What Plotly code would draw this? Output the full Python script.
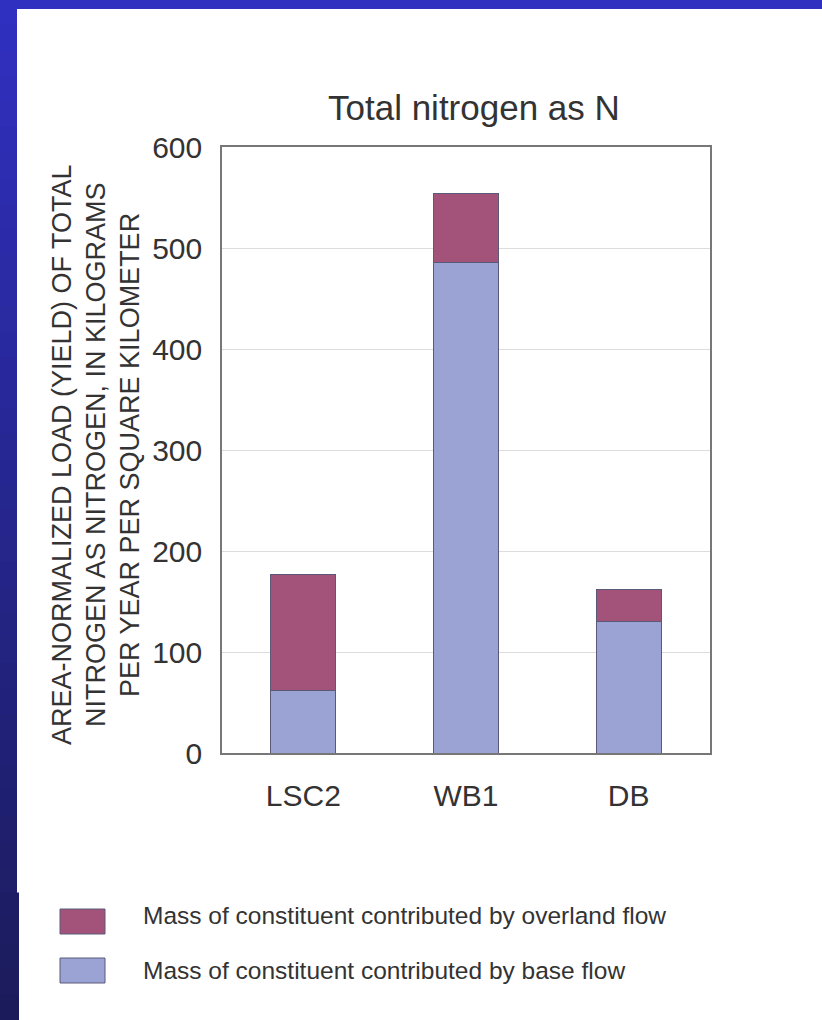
import plotly.graph_objects as go

categories = ["LSC2", "WB1", "DB"]
base_flow = [62, 486, 130]
overland_flow = [115, 68, 32]
series_names = ["Mass of constituent contributed by overland flow",
                "Mass of constituent contributed by base flow"]
y_ticks = [0, 100, 200, 300, 400, 500, 600]
title_text = "Total nitrogen as N"
y_title_lines = ["AREA-NORMALIZED LOAD (YIELD) OF TOTAL",
                 "NITROGEN AS NITROGEN, IN KILOGRAMS",
                 "PER YEAR PER SQUARE KILOMETER"]

W, H = 822, 1020
L, R, T, B = 222, 710, 147, 753
FONT = "Liberation Sans, Arial, Helvetica, sans-serif"
TXT = "#333333"
C_OVER = "#a3527a"
C_BASE = "#9ba3d5"
C_EDGE = "#5a5a78"

def px(x):
    return (x - L) / (R - L)

def py(y):
    return (B - y) / (B - T)

fig = go.Figure()
fig.add_trace(go.Bar(x=categories, y=base_flow, name=series_names[1],
                     marker=dict(color=C_BASE, line=dict(color=C_EDGE, width=1))))
fig.add_trace(go.Bar(x=categories, y=overland_flow, name=series_names[0],
                     marker=dict(color=C_OVER, line=dict(color=C_EDGE, width=1))))

shapes = []
# blue slide border: top strip and left gradient strip
shapes.append(dict(type="rect", xref="paper", yref="paper", x0=px(0), x1=px(W),
                   y0=py(0), y1=py(9), fillcolor="#3030c0", line=dict(width=0), layer="above"))
n = 40
c0 = (0x30, 0x30, 0xc0)
c1 = (0x1b, 0x1b, 0x5c)
for i in range(n):
    y0 = i * H / n
    y1 = (i + 1) * H / n + 1
    t = i / (n - 1)
    col = "rgb(%d,%d,%d)" % tuple(round(a + (b - a) * t) for a, b in zip(c0, c1))
    wstrip = 17 if y0 < 888 else 19
    shapes.append(dict(type="rect", xref="paper", yref="paper", x0=px(0), x1=px(wstrip),
                       y0=py(y0), y1=py(y1), fillcolor=col, line=dict(width=0), layer="above"))

# legend swatches
leg = [(series_names[0], C_OVER, 909, 934, 915), (series_names[1], C_BASE, 958, 983, 970)]
annotations = []
for name, col, ya, yb, yt in leg:
    shapes.append(dict(type="rect", xref="paper", yref="paper", x0=px(60), x1=px(105),
                       y0=py(yb), y1=py(ya), fillcolor=col, line=dict(color=C_EDGE, width=1)))
    annotations.append(dict(text=name, xref="paper", yref="paper", x=px(141), y=py(yt),
                            xanchor="left", yanchor="middle", showarrow=False,
                            font=dict(family=FONT, size=24.5, color=TXT)))

annotations.append(dict(text=title_text, xref="paper", yref="paper", x=px(474), y=py(107),
                        xanchor="center", yanchor="middle", showarrow=False,
                        font=dict(family=FONT, size=35, color=TXT)))
for line, xc in zip(y_title_lines, [62, 96, 130]):
    annotations.append(dict(text=line, xref="paper", yref="paper", x=px(xc), y=py(455),
                            xanchor="center", yanchor="middle", showarrow=False, textangle=-90,
                            font=dict(family=FONT, size=27, color=TXT)))

fig.update_layout(
    width=W, height=H,
    margin=dict(l=L, r=W - R, t=T, b=H - B, pad=0),
    paper_bgcolor="white", plot_bgcolor="white",
    barmode="stack", bargap=0.6, showlegend=False,
    shapes=shapes, annotations=annotations,
    font=dict(family=FONT, color=TXT),
)
fig.update_xaxes(showline=True, linecolor="#777777", linewidth=1.5, mirror=True,
                 showgrid=False, ticks="", tickfont=dict(family=FONT, size=30, color=TXT),
                 ticklabelstandoff=15)
fig.update_yaxes(range=[0, 600], tickvals=y_ticks, showline=True, linecolor="#777777",
                 linewidth=1.5, mirror=True, showgrid=True, gridcolor="#dcdcdc", gridwidth=1,
                 zeroline=False, ticks="", tickfont=dict(family=FONT, size=30, color=TXT),
                 ticklabelstandoff=12)

fig.write_html("out.html", config={"displayModeBar": False},
               post_script="document.body.style.margin='0px';document.body.style.overflow='hidden';")
